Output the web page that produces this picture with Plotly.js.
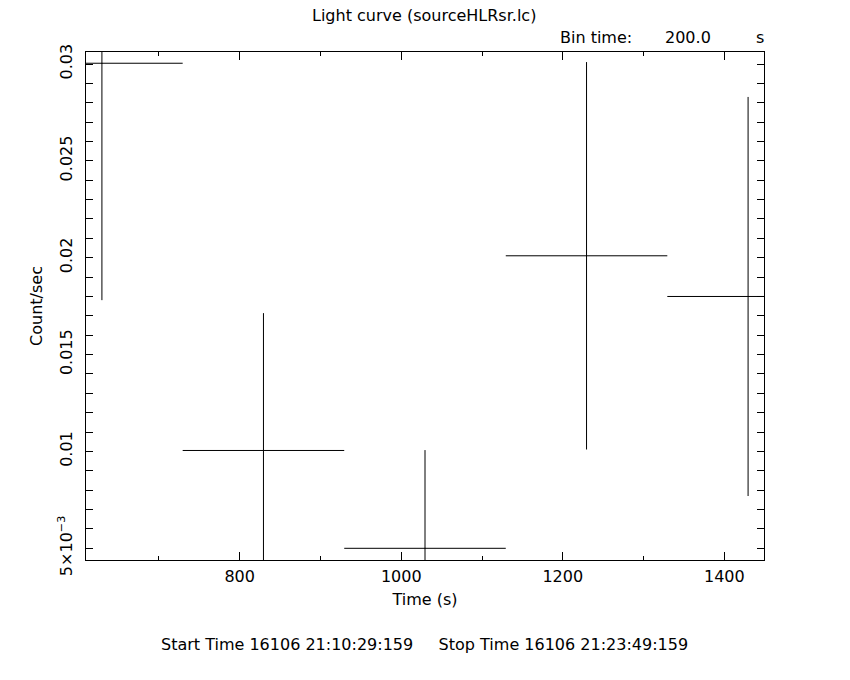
<!DOCTYPE html>
<html>
<head>
<meta charset="utf-8">
<script src="https://cdn.plot.ly/plotly-3.0.1.min.js"></script>
<style>html,body{margin:0;padding:0;background:#fff;}</style>
</head>
<body>
<div id="chart" style="width:850px;height:680px;"></div>
<script>
// Data
const time = [629.4, 829.4, 1029.4, 1229.4, 1429.4];
const timeErr = [100, 100, 100, 100, 100];
const rate = [0.03004, 0.01005, 0.0050, 0.0201, 0.0180];
const rateErr = [0.01223, 0.00709, 0.00507, 0.0100, 0.0103];

const xTickVals = [800, 1000, 1200, 1400];
const xTickText = ["800", "1000", "1200", "1400"];
const yTickVals = [0.005, 0.01, 0.015, 0.02, 0.025, 0.03];
const yTickText = ["5×10<sup>−3</sup>", "0.01", "0.015", "0.02", "0.025", "0.03"];

const FONT = "DejaVu Sans, Liberation Sans, sans-serif";
const FS = 16;

const trace = {
  x: time,
  y: rate,
  type: "scatter",
  mode: "markers",
  marker: {size: 1, color: "#000"},
  error_x: {type: "data", array: timeErr, visible: true, color: "#000", thickness: 1, width: 0},
  error_y: {type: "data", array: rateErr, visible: true, color: "#000", thickness: 1, width: 0},
  hoverinfo: "skip",
  showlegend: false
};

const layout = {
  width: 850,
  height: 680,
  paper_bgcolor: "#fff",
  plot_bgcolor: "#fff",
  margin: {l: 86, r: 86, t: 52, b: 120},
  font: {family: FONT, size: FS, color: "#000"},
  xaxis: {
    range: [609.7, 1449.1],
    tickvals: xTickVals,
    ticktext: xTickText,
    ticks: "inside",
    ticklen: 8,
    tickwidth: 1,
    tickcolor: "#000",
    showline: true,
    linecolor: "#000",
    linewidth: 1,
    mirror: "ticks",
    showgrid: false,
    zeroline: false,
    ticklabelstandoff: 2,
    tickfont: {family: FONT, size: FS, color: "#000"},
    minor: {dtick: 100, tick0: 0, ticks: "inside", ticklen: 4, tickcolor: "#000", tickwidth: 1, showgrid: false},
    title: {text: "Time (s)", font: {family: FONT, size: FS, color: "#000"}, standoff: 8}
  },
  yaxis: {
    range: [0.004396, 0.03062],
    tickvals: yTickVals,
    ticktext: yTickText,
    tickangle: -90,
    ticks: "inside",
    ticklen: 7,
    tickwidth: 1,
    tickcolor: "#000",
    showline: true,
    linecolor: "#000",
    linewidth: 1,
    mirror: "ticks",
    showgrid: false,
    zeroline: false,
    ticklabelstandoff: 7,
    tickfont: {family: FONT, size: FS, color: "#000"},
    minor: {dtick: 0.001, tick0: 0, ticks: "inside", ticklen: 7, tickcolor: "#000", tickwidth: 1, showgrid: false},
    title: {text: "Count/sec", font: {family: FONT, size: FS, color: "#000"}, standoff: 8}
  },
  annotations: [
    {text: "Light curve (sourceHLRsr.lc)", xref: "paper", yref: "paper", x: 0.499, y: 1.0728, xanchor: "center", yanchor: "middle", showarrow: false, font: {family: FONT, size: FS, color: "#000"}},
    {text: "Bin time:", xref: "paper", yref: "paper", x: 0.696, y: 1.0276, xanchor: "left", yanchor: "middle", showarrow: false, font: {family: FONT, size: FS, color: "#000"}},
    {text: "200.0", xref: "paper", yref: "paper", x: 0.851, y: 1.0276, xanchor: "left", yanchor: "middle", showarrow: false, font: {family: FONT, size: FS, color: "#000"}},
    {text: "s", xref: "paper", yref: "paper", x: 0.985, y: 1.0276, xanchor: "left", yanchor: "middle", showarrow: false, font: {family: FONT, size: FS, color: "#000"}},
    {text: "Start Time 16106 21:10:29:159     Stop Time 16106 21:23:49:159", xref: "paper", yref: "paper", x: 0.499, y: -0.1673, xanchor: "center", yanchor: "middle", showarrow: false, font: {family: FONT, size: FS, color: "#000"}}
  ]
};

Plotly.newPlot("chart", [trace], layout, {staticPlot: true, displayModeBar: false});
</script>
</body>
</html>
